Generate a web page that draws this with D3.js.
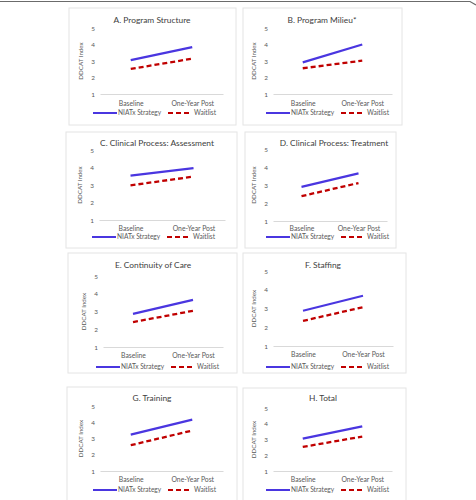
<!DOCTYPE html>
<html>
<head>
<meta charset="utf-8">
<script src="https://cdn.jsdelivr.net/npm/d3@7"></script>
<style>
  body { margin: 0; background: #fff; }
  svg { display: block; font-family: Lato, "Open Sans", sans-serif; }
</style>
</head>
<body>
<svg id="chart" width="476" height="500"></svg>
<script>
// ---- data ----
const panelTitles = [
  "A. Program Structure", "B. Program Milieu*",
  "C. Clinical Process: Assessment", "D. Clinical Process: Treatment",
  "E. Continuity of Care", "F. Staffing",
  "G. Training", "H. Total"
];
const categories = ["Baseline", "One-Year Post"];
const seriesNames = ["NIATx Strategy", "Waitlist"];
// [Baseline, One-Year Post] per panel
const niatxValues = [
  [3.05, 3.84], [2.92, 4.0], [3.54, 3.96], [2.89, 3.65],
  [2.87, 3.66], [2.88, 3.68], [3.24, 4.16], [3.06, 3.83]
];
const waitlistValues = [
  [2.52, 3.14], [2.56, 3.02], [2.98, 3.48], [2.38, 3.11],
  [2.40, 3.04], [2.34, 3.07], [2.59, 3.49], [2.53, 3.19]
];
const yTicks = [1, 2, 3, 4, 5];
const yTitle = "DDCAT Index";

// ---- layout of each small panel (pixels) ----
const layouts = [
  {box: [69, 8, 236, 125],  px: [100, 223], py: [94, 28],   titleX: 152, titleY: 21,  catY: 104, legY: 113},
  {box: [243, 8, 402, 125], px: [273, 392], py: [94, 28],   titleX: 322, titleY: 21,  catY: 104, legY: 113},
  {box: [66, 132, 237, 248], px: [99, 225], py: [220, 150], titleX: 157, titleY: 144, catY: 229, legY: 237},
  {box: [245, 132, 396, 248], px: [273, 387], py: [221, 149], titleX: 334, titleY: 144, catY: 229, legY: 237},
  {box: [68, 253, 237, 373], px: [103, 223], py: [347, 276], titleX: 153, titleY: 266, catY: 356, legY: 367},
  {box: [243, 253, 406, 373], px: [273, 393], py: [346, 271], titleX: 323, titleY: 266, catY: 355, legY: 367},
  {box: [67, 387, 237, 506], px: [100, 223], py: [471, 406], titleX: 152, titleY: 399, catY: 480, legY: 490},
  {box: [243, 388, 406, 506], px: [273, 392], py: [471, 408], titleX: 323, titleY: 399, catY: 480, legY: 490}
];

const blue = "#4a36e0";
const red = "#c00000";
const textCol = "#404040";
const labelCol = "#595959";

const svg = d3.select("#chart");

// thin frame line across the top of the figure
svg.append("path")
   .attr("d", "M0,1.5 L470,1.5 L476,5")
   .attr("fill", "none")
   .attr("stroke", "#6b6b6b")
   .attr("stroke-width", 1.2);

panelTitles.forEach(function(title, i) {
  const L = layouts[i];
  const g = svg.append("g");

  // panel box
  g.append("rect")
   .attr("x", L.box[0]).attr("y", L.box[1])
   .attr("width", L.box[2] - L.box[0]).attr("height", L.box[3] - L.box[1])
   .attr("fill", "#fff").attr("stroke", "#e4e4e4").attr("stroke-width", 1);

  const x = d3.scalePoint().domain(categories).range(L.px).padding(0.5);
  const y = d3.scaleLinear().domain([1, 5]).range(L.py);

  // title
  g.append("text")
   .attr("x", L.titleX).attr("y", L.titleY)
   .attr("text-anchor", "middle").attr("dominant-baseline", "middle")
   .attr("font-size", 8.4).attr("fill", textCol)
   .text(title);

  // y axis (labels only)
  const yAxis = g.append("g")
     .attr("transform", `translate(${L.px[0]},0)`)
     .call(d3.axisLeft(y).tickValues(yTicks).tickFormat(d3.format("d")).tickSize(0).tickPadding(5));
  yAxis.select(".domain").remove();
  yAxis.selectAll("text").attr("font-size", 6.4).attr("fill", labelCol)
       .attr("font-family", "Lato, sans-serif");

  // y axis title
  g.append("text")
   .attr("transform", `translate(${L.px[0] - 19},${(L.py[0] + L.py[1]) / 2}) rotate(-90)`)
   .attr("text-anchor", "middle").attr("dominant-baseline", "middle")
   .attr("font-size", 6.2).attr("fill", labelCol)
   .text(yTitle);

  // x axis
  const xAxis = g.append("g")
     .attr("transform", `translate(0,${L.py[0]})`)
     .call(d3.axisBottom(x).tickSize(0).tickPadding(0));
  xAxis.select(".domain").attr("stroke", "#d9d9d9").attr("stroke-width", 1);
  xAxis.selectAll("text")
       .attr("y", L.catY - L.py[0]).attr("dy", null)
       .attr("dominant-baseline", "middle")
       .attr("font-size", 6.8).attr("fill", labelCol)
       .attr("font-family", "Lato, sans-serif");

  // series lines
  const line = d3.line().x(function(d, k) { return x(categories[k]); }).y(function(d) { return y(d); });
  g.append("path").datum(waitlistValues[i])
   .attr("d", line).attr("fill", "none")
   .attr("stroke", red).attr("stroke-width", 2.3).attr("stroke-dasharray", "5,3");
  g.append("path").datum(niatxValues[i])
   .attr("d", line).attr("fill", "none")
   .attr("stroke", blue).attr("stroke-width", 2.3);

  // legend
  const lx = L.px[0];
  g.append("line")
   .attr("x1", lx - 7).attr("x2", lx + 17).attr("y1", L.legY).attr("y2", L.legY)
   .attr("stroke", blue).attr("stroke-width", 2);
  g.append("text")
   .attr("x", lx + 18).attr("y", L.legY).attr("dominant-baseline", "middle")
   .attr("font-size", 6.6).attr("fill", labelCol)
   .text(seriesNames[0]);
  g.append("line")
   .attr("x1", lx + 68).attr("x2", lx + 92).attr("y1", L.legY).attr("y2", L.legY)
   .attr("stroke", red).attr("stroke-width", 2).attr("stroke-dasharray", "5,3");
  g.append("text")
   .attr("x", lx + 94).attr("y", L.legY).attr("dominant-baseline", "middle")
   .attr("font-size", 6.6).attr("fill", labelCol)
   .text(seriesNames[1]);
});
</script>
</body>
</html>
